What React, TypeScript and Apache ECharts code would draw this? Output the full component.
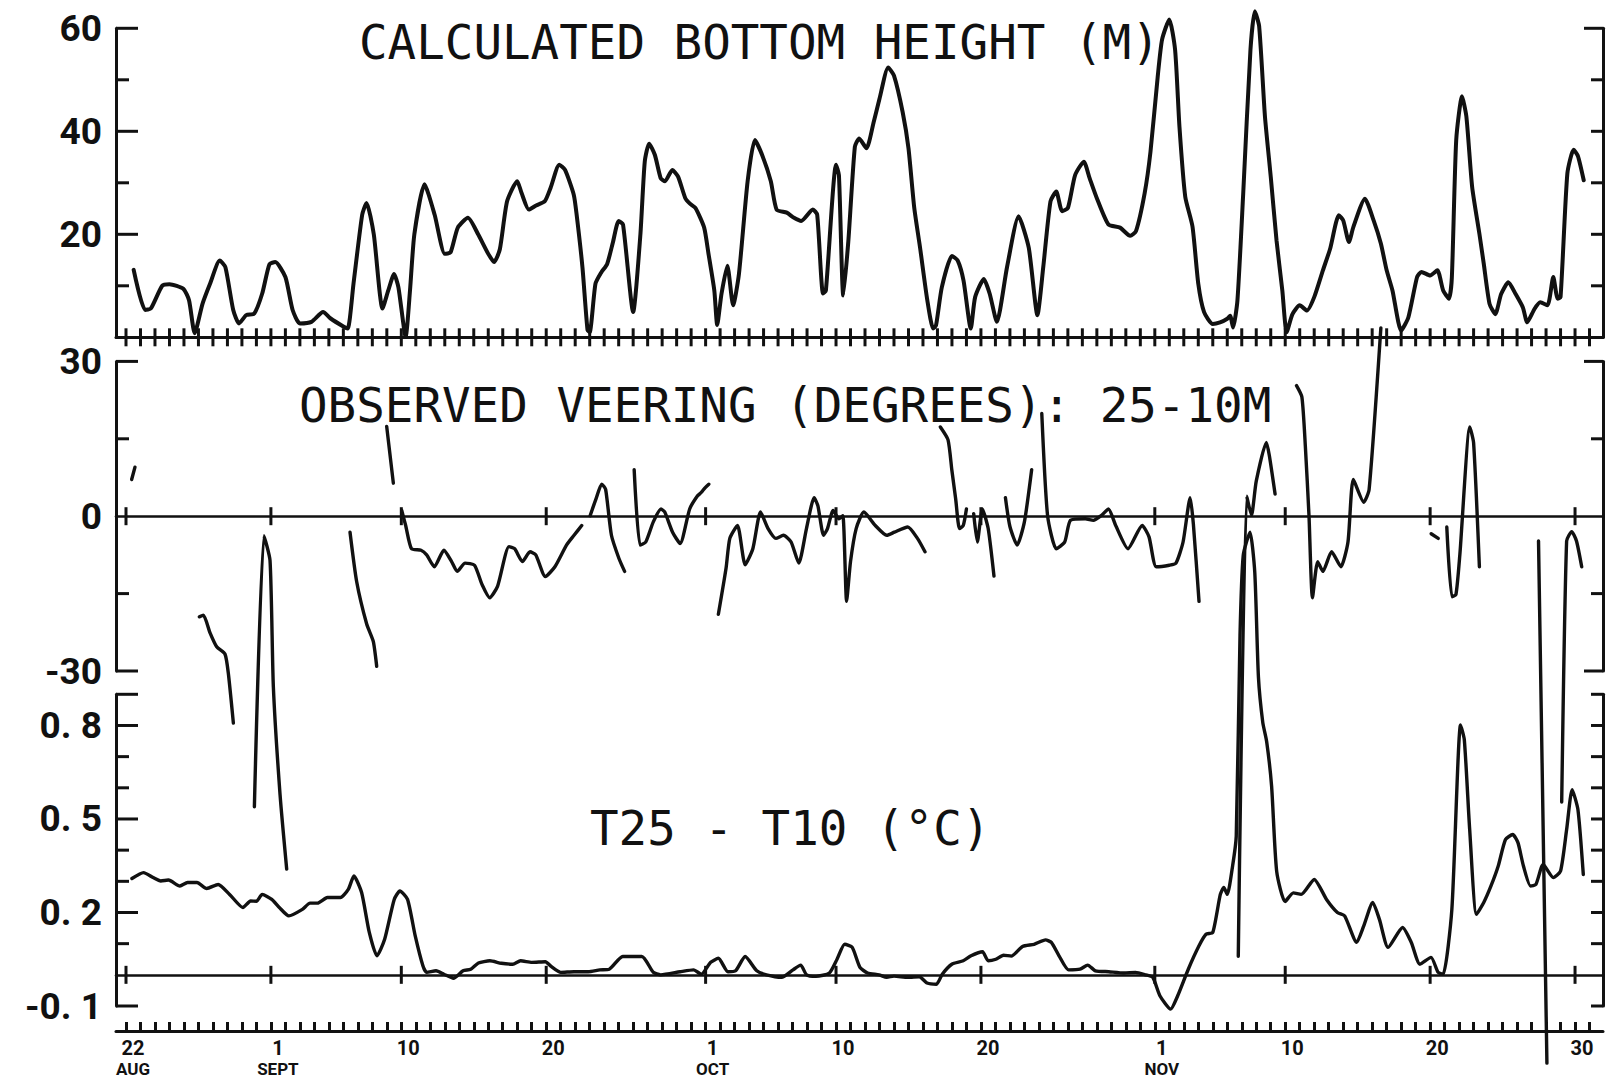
import React, { useEffect, useRef } from 'react';
import * as echarts from 'echarts';

const INK = '#111111';

// Time axis in days, day 0 = 22 August. One tick per day.
const X_MIN = -0.69;
const X_MAX = 101.93;
const dayTicks = Array.from({ length: 102 }, (_, i) => i);
const majorDays = [0, 10, 19, 29, 40, 49, 59, 71, 80, 90, 100];
const dayLabels = ['22\nAUG', '1\nSEPT', '10', '20', '1\nOCT', '10', '20', '1\nNOV', '10', '20', '30'];

// Panel 1: calculated bottom height (m)
const heightLabels = [20, 40, 60];
const heightMinor = [10, 30, 50];
const heightSeries: [number, number][] = [
  [0.53, 13.1], [1.32, 5.3], [1.72, 5.6], [2.5, 10], [3.0, 10.3], [3.96, 9.4], [4.35, 7.2], [4.74, 0.8],
  [5.28, 6.5], [5.8, 10.4], [6.47, 14.9], [6.86, 13.6], [7.4, 5.3], [7.8, 2.7], [8.3, 4.3], [8.85, 4.6],
  [9.4, 8.5], [9.9, 14.2], [10.3, 14.6], [11.0, 11.7], [11.5, 5.3], [12.0, 2.7], [12.8, 3.0], [13.6, 4.9],
  [14.1, 3.7], [15.0, 2.1], [15.3, 1.7], [15.7, 10.4], [16.3, 23.8], [16.6, 26.1], [17.1, 20], [17.7, 5.6],
  [18.1, 9.1], [18.5, 12.3], [18.8, 9.7], [19.3, 0.1], [19.6, 9.1], [19.9, 20], [20.6, 29.7], [21.3, 23.8],
  [22.0, 16.2], [22.4, 16.5], [22.9, 21.3], [23.6, 23.2], [24.3, 20], [25.0, 16.2], [25.4, 14.6], [25.8, 17.1],
  [26.3, 26.4], [27.0, 30.3], [27.3, 28], [27.8, 24.8], [28.3, 25.6], [28.9, 26.4], [29.3, 29], [29.9, 33.5],
  [30.3, 32.5], [30.9, 27.7], [31.1, 23.8], [31.5, 13.6], [31.85, 1.4], [32.0, 1.0], [32.4, 10.4], [32.8, 12.6],
  [33.2, 14.2], [33.6, 18.4], [34.0, 22.6], [34.3, 21.9], [35.0, 4.9], [35.5, 20], [35.8, 34.1], [36.1, 37.6],
  [36.5, 35.4], [36.9, 30.9], [37.2, 30.3], [37.7, 32.5], [38.1, 31.2], [38.6, 27], [38.9, 26], [39.3, 25.1],
  [39.9, 21.3], [40.2, 16.2], [40.6, 9.1], [40.8, 2.4], [41.1, 8.5], [41.5, 13.9], [41.9, 6.2], [42.3, 12.3],
  [42.9, 30.3], [43.4, 38.3], [43.9, 35.4], [44.5, 30.3], [44.9, 24.8], [45.6, 24.2], [46.1, 23.2], [46.6, 22.6],
  [47.4, 24.8], [47.7, 23.8], [48.1, 8.5], [48.3, 9.1], [49.0, 33.5], [49.2, 31.5], [49.5, 8.1], [49.85, 18.7],
  [50.3, 37], [50.6, 38.6], [51.1, 36.7], [51.6, 41.8], [52.0, 46.3], [52.6, 52.4], [53.0, 50.8], [53.6, 43.7],
  [54.0, 36.7], [54.4, 25.1], [54.8, 17.4], [55.3, 7.2], [55.7, 1.7], [55.9, 2.3], [56.3, 9.7], [57.0, 15.8],
  [57.4, 14.9], [57.8, 11], [58.3, 1.7], [58.6, 7.8], [59.2, 11.3], [59.6, 8.5], [60.1, 3], [60.8, 13.6],
  [61.6, 23.5], [62.3, 17.4], [62.9, 4.3], [63.3, 13.6], [63.8, 26.4], [64.2, 28.3], [64.6, 24.5], [65.0, 25.1],
  [65.5, 31.5], [66.1, 34.1], [66.5, 30.9], [67.0, 27], [67.8, 21.9], [68.6, 21.3], [69.3, 19.7], [69.7, 20.6],
  [70.3, 28], [70.7, 36], [71.2, 50.6], [71.5, 57.8], [72.0, 61.7], [72.4, 55.8], [72.7, 40.9], [73.1, 27.3],
  [73.6, 21.5], [74.0, 10.4], [74.4, 4.9], [75.0, 2.6], [75.5, 2.9], [76.0, 3.6], [76.2, 4.2], [76.4, 1.9],
  [76.7, 7.1], [77.1, 27.9], [77.6, 55.8], [77.9, 63.3], [78.2, 60.4], [78.6, 42.9], [79.0, 31.2], [79.4, 18.8],
  [79.8, 9.1], [80.1, 1], [80.5, 4.5], [81.0, 6.2], [81.5, 5.2], [82.0, 7.8], [82.6, 13], [83.1, 17.2],
  [83.7, 23.7], [84.0, 22.7], [84.4, 18.5], [84.7, 21.4], [85.5, 26.9], [86.1, 22.7], [86.6, 18.2], [87.0, 13],
  [87.4, 9.1], [88.0, 1.3], [88.5, 3.9], [89.1, 11.7], [89.4, 12.7], [90.0, 12], [90.5, 13], [90.9, 9.1],
  [91.3, 7.5], [91.5, 11.7], [91.8, 38.3], [92.2, 46.8], [92.5, 42.9], [92.9, 29.2], [93.4, 20.1], [93.7, 14.3],
  [94.1, 6.5], [94.5, 4.5], [94.9, 8.4], [95.4, 10.7], [95.9, 8.4], [96.4, 5.8], [96.7, 2.9], [97.2, 5.5],
  [97.6, 6.8], [98.1, 6.2], [98.5, 11.7], [98.8, 7.5], [99.0, 7.8], [99.47, 31.8], [99.9, 36.4], [100.2, 35.2],
  [100.6, 30.5],
];

// Panel 2: observed veering 25-10 m (degrees); gaps separate the pieces
const veeringLabels = [-30, 0, 30];
const veeringCaps = [-30, 30];
const veeringMinor = [-15, 15];
const veeringSegments: [number, number][][] = [
  [[0.39, 7.1], [0.62, 9.5]],
  [[5.06, -19.5], [5.34, -19.2], [5.8, -22.6], [6.26, -25.3], [6.83, -26.7], [7.06, -30.4], [7.41, -40.1]],
  [[8.86, -56.3], [9.52, -3.8], [9.94, -8.6], [10.17, -33.1], [10.63, -53.9], [11.09, -68.4]],
  [[15.46, -3.1], [15.92, -12.7], [16.61, -20.9], [17.07, -24.3], [17.3, -29.1]],
  [[17.99, 17.4], [18.45, 6.4]],
  [[19.03, 1.1], [19.3, -1.8], [19.7, -6.3], [20.36, -6.6], [20.75, -7.5], [21.28, -9.8], [21.94, -6.6],
   [22.47, -8.8], [22.86, -10.7], [23.4, -9.1], [24.05, -9.5], [24.58, -13.3], [25.1, -15.8], [25.64, -13.6],
   [26.43, -5.9], [26.82, -6.3], [27.36, -8.8], [27.88, -6.9], [28.28, -7.5], [28.94, -11.7], [29.6, -9.8],
   [30.4, -5.6], [30.92, -3.7], [31.45, -1.8]],
  [[32.03, 0.1], [32.43, 3.3], [32.83, 6.2], [33.1, 5.2], [33.5, -3.7], [34.02, -8.2], [34.41, -10.7]],
  [[35.07, 9.0], [35.47, -5.6], [35.87, -5], [36.39, -1.1], [36.92, 1.4], [37.18, 0.8], [37.72, -3.1],
   [38.24, -5.3], [38.9, 1.4], [39.43, 3.9], [39.7, 4.6], [39.96, 5.5], [40.22, 6.2]],
  [[40.88, -19], [41.41, -10.1], [41.67, -4.3], [42.2, -1.8], [42.73, -9.4], [43.26, -6.3], [43.79, 0.8],
   [44.31, -2.4], [44.85, -4.3], [45.37, -3.7], [45.9, -5], [46.43, -9.1], [46.96, -2.4], [47.49, 3.6],
   [47.75, 2], [48.14, -3.7], [48.41, -2.4], [48.8, 1.1], [49.2, -0.5], [49.47, 0.1], [49.73, -16.5],
   [50.0, -8.8], [50.39, -2.4], [50.92, 0.8], [51.71, -1.8], [52.5, -3.7], [53.03, -3.1], [53.95, -2.1],
   [54.62, -4.3], [55.14, -6.9]],
  [[56.2, 17.3], [56.73, 14.8], [56.99, 9], [57.26, 3.3], [57.52, -2.4], [57.78, -1.8], [58.0, 1.4]],
  [[58.5, 0.5], [58.75, -5], [59.1, 1.4], [59.5, -2.4], [59.9, -11.6]],
  [[60.69, 3.6], [61.0, -2], [61.5, -5.6], [62.0, -1.1], [62.5, 9]],
  [[63.2, 19.9], [63.6, 0.1], [64.2, -6.3], [64.78, -5], [65.18, -0.8], [66.2, -0.5], [66.76, -0.8],
   [67.3, 0.1], [67.8, 1.4], [68.3, -1.8], [69.15, -6.3], [70.13, -1.8], [70.6, -4], [71.1, -9.8],
   [72.0, -9.5], [72.46, -9.1], [72.95, -5], [73.44, 3.6], [73.66, -1.5], [74.05, -16.5]],
  [[76.76, -85.3], [77.34, 3.9], [77.67, 0.2], [78.0, 6.8], [78.7, 14.3], [78.9, 11.8], [79.3, 4.3]],
  [[80.78, 25.3], [81.15, 23.1], [81.39, 13.5], [81.64, 0.1], [81.88, -15.8], [82.24, -8.8], [82.6, -10.7],
   [83.2, -6.9], [83.84, -9.8], [84.33, -5], [84.7, 7.1], [85.42, 2.7], [85.79, 5.2], [86.6, 36.5]],
  [[90.07, -3.4], [90.56, -4.3]],
  [[91.15, -2.1], [91.5, -15.6], [91.78, -15.2], [92.05, -7.5], [92.74, 17.3], [93.0, 14.2], [93.4, -9.8]],
  [[97.48, -4.8], [98.06, -106]],
  [[99.08, -55.4], [99.42, -4.8], [99.77, -3], [100.1, -4.8], [100.46, -9.8]],
];

// Panel 3: T25 - T10 (deg C)
const tempLabels = [-0.1, 0.2, 0.5, 0.8];
const tempLabelText = ['-0. 1', '0. 2', '0. 5', '0. 8'];
const tempMajor = [-0.1, 0.2, 0.5, 0.8, 0.9];
const tempMinor = [0.1, 0.3, 0.4, 0.6, 0.7];
const tempRight = [-0.1, 0.1, 0.2, 0.3, 0.4, 0.5, 0.6, 0.7, 0.8, 0.9];
const tempSeries: [number, number][] = [
  [0.41, 0.309], [1.21, 0.328], [1.87, 0.312], [2.4, 0.301], [2.93, 0.304], [3.72, 0.285], [4.25, 0.296],
  [4.9, 0.296], [5.57, 0.277], [6.36, 0.29], [7.15, 0.258], [8.07, 0.216], [8.6, 0.237], [9.0, 0.236],
  [9.4, 0.258], [10.06, 0.242], [10.58, 0.216], [11.24, 0.189], [12.17, 0.21], [12.7, 0.23], [13.22, 0.23],
  [13.9, 0.248], [14.8, 0.248], [15.34, 0.274], [15.73, 0.317], [16.26, 0.264], [16.79, 0.136], [17.32, 0.061],
  [17.85, 0.114], [18.51, 0.242], [18.9, 0.269], [19.43, 0.242], [19.96, 0.125], [20.49, 0.029], [20.75, 0.008],
  [21.4, 0.013], [21.94, 0.002], [22.6, -0.011], [23.26, 0.013], [23.79, 0.018], [24.32, 0.038], [25.11, 0.045],
  [25.9, 0.037], [26.69, 0.034], [27.23, 0.045], [28.01, 0.04], [28.94, 0.042], [29.34, 0.027], [30.0, 0.008],
  [30.92, 0.01], [31.9, 0.01], [32.7, 0.016], [33.35, 0.018], [34.28, 0.059], [35.6, 0.059], [36.39, 0.008],
  [36.9, 0.0], [38.24, 0.01], [39.17, 0.016], [39.7, 0.002], [40.35, 0.04], [40.88, 0.053], [41.54, 0.01],
  [42.07, 0.013], [42.73, 0.059], [43.53, 0.013], [44.2, 0.0], [45.24, -0.008], [46.03, 0.016], [46.56, 0.031],
  [46.97, 0.0], [47.62, -0.005], [48.54, 0.006], [49.07, 0.05], [49.6, 0.098], [50.12, 0.088], [50.65, 0.024],
  [51.18, 0.006], [51.97, 0.0], [52.5, -0.008], [53.0, -0.004], [53.95, -0.008], [54.75, -0.006], [55.28, -0.026],
  [55.93, -0.03], [56.33, 0.002], [56.99, 0.034], [57.78, 0.045], [58.32, 0.061], [59.11, 0.074], [59.5, 0.045],
  [60.03, 0.05], [60.56, 0.063], [61.1, 0.06], [61.87, 0.091], [62.67, 0.098], [63.46, 0.112], [63.86, 0.104],
  [64.39, 0.061], [65.05, 0.016], [65.84, 0.018], [66.37, 0.031], [66.9, 0.013], [67.82, 0.01], [68.87, 0.006],
  [69.67, 0.008], [70.37, 0.0], [70.86, -0.008], [71.35, -0.067], [72.09, -0.11], [72.58, -0.067], [73.31, 0.018],
  [74.05, 0.093], [74.53, 0.13], [75.0, 0.136], [75.52, 0.258], [75.76, 0.28], [76.0, 0.258], [76.37, 0.35],
  [76.62, 0.445], [76.88, 1.09], [77.1, 1.345], [77.57, 1.42], [77.9, 1.29], [78.15, 0.956], [78.45, 0.81],
  [78.72, 0.748], [79.06, 0.605], [79.41, 0.332], [79.99, 0.235], [80.56, 0.263], [81.1, 0.258], [82.0, 0.306],
  [82.85, 0.242], [83.6, 0.2], [84.1, 0.189], [84.93, 0.104], [85.42, 0.157], [86.04, 0.232], [86.5, 0.178],
  [87.1, 0.088], [88.1, 0.152], [88.7, 0.104], [89.3, 0.034], [90.06, 0.056], [90.55, 0.008], [90.9, 0.002],
  [91.5, 0.21], [92.1, 0.802], [92.36, 0.754], [92.73, 0.466], [93.2, 0.194], [93.7, 0.232], [94.2, 0.285],
  [94.7, 0.349], [95.2, 0.434], [95.7, 0.45], [96.06, 0.424], [96.44, 0.349], [96.93, 0.285], [97.3, 0.29],
  [97.8, 0.354], [98.5, 0.312], [99.0, 0.333], [99.42, 0.466], [99.8, 0.594], [100.2, 0.53], [100.57, 0.322],
];

// Tick kinds drawn by the frame series
const LEFT_MAJOR = 0;
const LEFT_MINOR = 1;
const RIGHT_TICK = 2;
const RIGHT_CAP = 3;
const CROSS = 4;

const renderTick = (_params: any, api: any) => {
  const p = api.coord([api.value(0), api.value(1)]);
  const kind = api.value(2);
  let x1 = p[0], y1 = p[1], x2 = p[0], y2 = p[1];
  if (kind === LEFT_MAJOR) x2 = p[0] + 22;
  else if (kind === LEFT_MINOR) x2 = p[0] + 13;
  else if (kind === RIGHT_TICK) x1 = p[0] - 12;
  else if (kind === RIGHT_CAP) x1 = p[0] - 19;
  else { y1 = p[1] - 9; y2 = p[1] + 9; }
  return {
    type: 'line',
    shape: { x1, y1, x2, y2 },
    style: { stroke: INK, lineWidth: 3, lineCap: 'butt' },
  };
};

const frameSeries = (grid: number, xIdx: number, yIdx: number, items: number[][]) => ({
  type: 'custom',
  xAxisIndex: xIdx,
  yAxisIndex: yIdx,
  renderItem: renderTick,
  data: items,
  encode: { x: 0, y: 1 },
  clip: false,
  silent: true,
  z: 3,
  name: 'frame' + grid,
});

const topFrame = [
  ...heightLabels.map((v) => [X_MIN, v, LEFT_MAJOR]),
  ...heightMinor.map((v) => [X_MIN, v, LEFT_MINOR]),
  [X_MAX, 60, RIGHT_CAP],
  ...[10, 20, 30, 40, 50].map((v) => [X_MAX, v, RIGHT_TICK]),
  ...dayTicks.map((d) => [d, 0, CROSS]),
];
const midFrame = [
  ...veeringCaps.map((v) => [X_MIN, v, LEFT_MAJOR]),
  ...veeringMinor.map((v) => [X_MIN, v, LEFT_MINOR]),
  ...veeringCaps.map((v) => [X_MAX, v, RIGHT_CAP]),
  ...veeringMinor.map((v) => [X_MAX, v, RIGHT_TICK]),
  ...majorDays.map((d) => [d, 0, CROSS]),
];
const lowFrame = [
  ...tempMajor.map((v) => [X_MIN, v, LEFT_MAJOR]),
  ...tempMinor.map((v) => [X_MIN, v, LEFT_MINOR]),
  ...tempRight.map((v) => [X_MAX, v, RIGHT_TICK]),
  ...majorDays.map((d) => [d, 0, CROSS]),
];

const yLabelStyle = {
  fontFamily: 'Roboto',
  fontWeight: 'bold' as const,
  fontSize: 37,
  color: INK,
  margin: 14,
};

const plainX = (grid: number, onZero: boolean, width: number) => ({
  type: 'value',
  gridIndex: grid,
  min: X_MIN,
  max: X_MAX,
  position: 'bottom',
  axisLine: { show: true, onZero, lineStyle: { color: INK, width } },
  axisTick: { show: false },
  axisLabel: { show: false },
  splitLine: { show: false },
});

const sideY = (grid: number, min: number, max: number, position: string, labels?: any) => ({
  type: 'value',
  gridIndex: grid,
  min,
  max,
  position,
  axisLine: { show: true, onZero: false, lineStyle: { color: INK, width: 3 } },
  axisTick: { show: false },
  splitLine: { show: false },
  axisLabel: labels ? { ...yLabelStyle, ...labels } : { show: false },
});

const titleText = (text: string, x: number, y: number) => ({
  type: 'text',
  x,
  y,
  silent: true,
  style: {
    text,
    fill: INK,
    fontFamily: 'DejaVu Sans Mono',
    fontSize: 47.5,
    align: 'left',
    verticalAlign: 'middle',
    textAlign: 'left',
    textVerticalAlign: 'middle',
  },
});

export default function App() {
  const ref = useRef<HTMLDivElement>(null);

  useEffect(() => {
    if (!ref.current) return;
    const chart = echarts.init(ref.current, undefined, { renderer: 'svg' });

    const lineStyle = (width: number) => ({ color: INK, width, cap: 'round', join: 'round' });

    chart.setOption({
      animation: false,
      backgroundColor: '#ffffff',
      grid: [
        { left: 116, right: 3, top: 28.3, height: 309 },
        { left: 116, right: 3, top: 361.4, height: 309.6 },
        { left: 116, right: 3, top: 694.3, height: 312 },
      ],
      xAxis: [
        plainX(0, false, 3),
        plainX(1, true, 2.6),
        plainX(2, true, 2.6),
        {
          type: 'value',
          gridIndex: 2,
          min: X_MIN,
          max: X_MAX,
          position: 'bottom',
          offset: 25,
          axisLine: { show: true, onZero: false, lineStyle: { color: INK, width: 3 } },
          axisTick: {
            show: true,
            inside: true,
            length: 9,
            customValues: dayTicks,
            lineStyle: { color: INK, width: 3 },
          },
          axisLabel: {
            show: true,
            customValues: majorDays,
            margin: 6,
            padding: [0, 0, 0, 14],
            formatter: (v: number) => {
              const i = majorDays.indexOf(Math.round(v));
              if (i < 0) return '';
              const [num, month] = dayLabels[i].split('\n');
              return month ? `{n|${num}}\n{m|${month}}` : `{n|${num}}`;
            },
            rich: {
              n: { fontFamily: 'Roboto', fontWeight: 'bold', fontSize: 20, color: INK, lineHeight: 22, align: 'center' },
              m: { fontFamily: 'Roboto', fontWeight: 'bold', fontSize: 17, color: INK, lineHeight: 19, align: 'center' },
            },
          },
          splitLine: { show: false },
        },
      ],
      yAxis: [
        sideY(0, 0, 60, 'left', { customValues: heightLabels }),
        sideY(1, -30, 30, 'left', { customValues: veeringLabels }),
        sideY(2, -0.1, 0.9, 'left', {
          customValues: tempLabels,
          formatter: (v: number) => {
            const i = tempLabels.findIndex((t) => Math.abs(t - v) < 1e-6);
            return i < 0 ? '' : tempLabelText[i];
          },
        }),
        sideY(0, 0, 60, 'right'),
        sideY(1, -30, 30, 'right'),
        sideY(2, -0.1, 0.9, 'right'),
      ],
      graphic: [
        titleText('CALCULATED BOTTOM HEIGHT (M)', 359, 42),
        titleText('OBSERVED VEERING (DEGREES): 25-10M', 299, 405),
        titleText('T25 - T10 (\u00B0C)', 590, 828),
      ],
      series: [
        frameSeries(0, 0, 0, topFrame),
        frameSeries(1, 1, 1, midFrame),
        frameSeries(2, 2, 2, lowFrame),
        {
          type: 'line',
          name: 'Calculated bottom height',
          xAxisIndex: 0,
          yAxisIndex: 0,
          data: heightSeries,
          showSymbol: false,
          smooth: 0.2,
          clip: false,
          lineStyle: lineStyle(4),
          z: 5,
        },
        ...veeringSegments.map((seg, i) => ({
          type: 'line',
          name: 'Veering ' + i,
          xAxisIndex: 1,
          yAxisIndex: 1,
          data: seg,
          showSymbol: false,
          smooth: 0.2,
          clip: false,
          lineStyle: lineStyle(3.4),
          z: 5,
        })),
        {
          type: 'line',
          name: 'T25 - T10',
          xAxisIndex: 2,
          yAxisIndex: 2,
          data: tempSeries,
          showSymbol: false,
          smooth: 0.2,
          clip: false,
          lineStyle: lineStyle(3.4),
          z: 5,
        },
      ],
    });

    return () => chart.dispose();
  }, []);

  return (
    <div
      ref={ref}
      style={{ position: 'fixed', left: 0, top: 0, width: 1606, height: 1077, background: '#ffffff' }}
    />
  );
}
